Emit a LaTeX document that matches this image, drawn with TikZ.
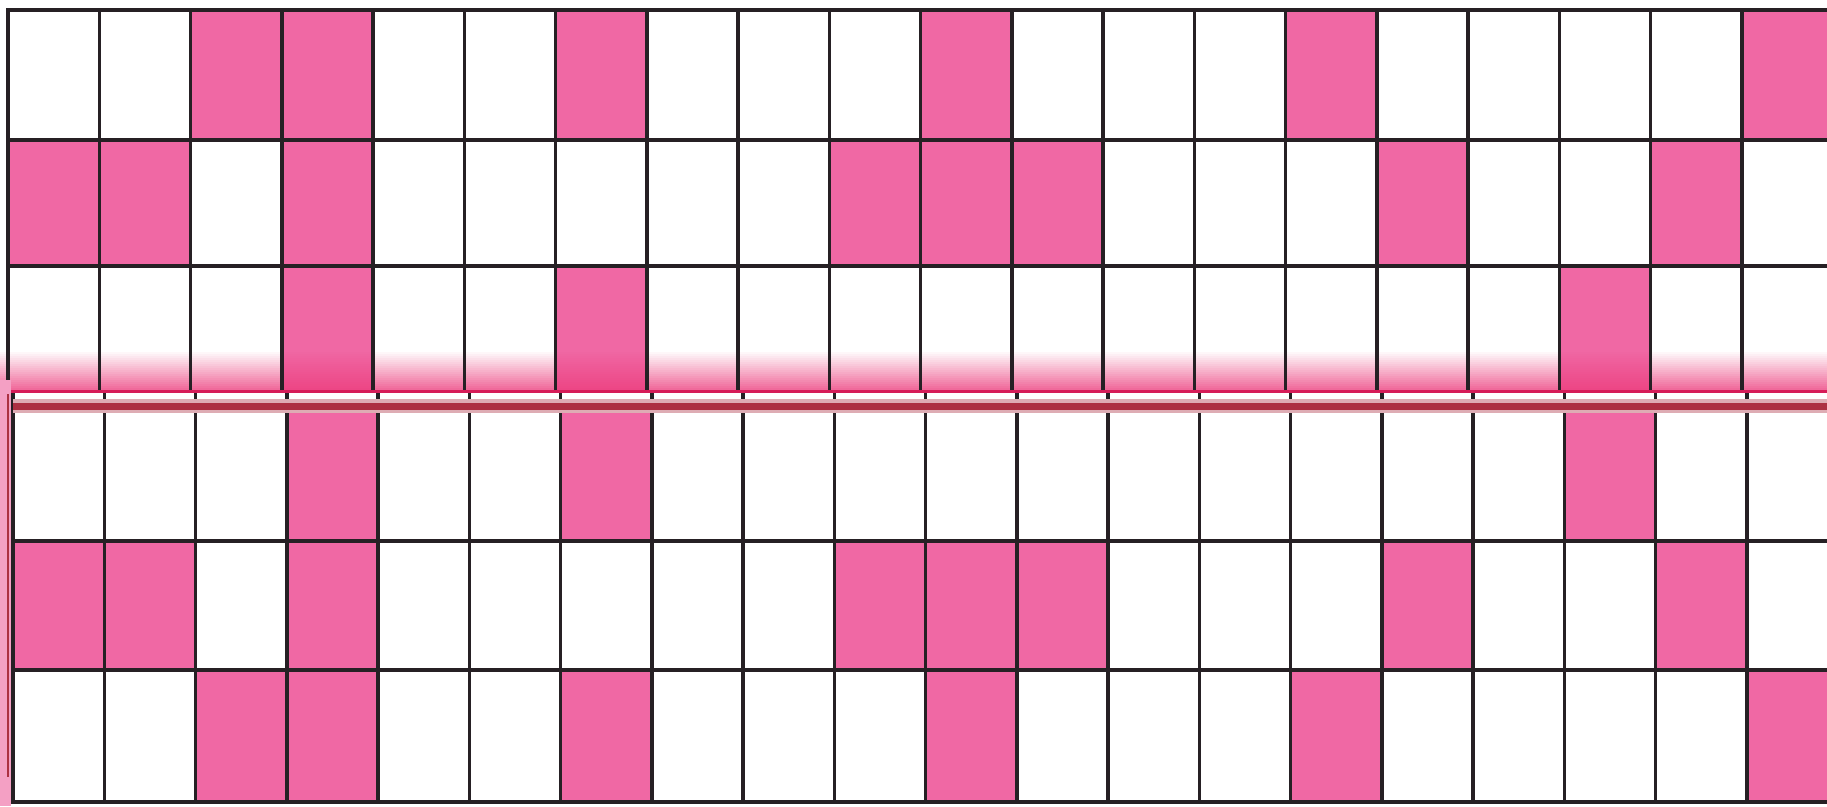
\documentclass[tikz,border=0pt]{standalone}
\begin{document}
\definecolor{cellpink}{RGB}{240,104,164}
\definecolor{gridline}{RGB}{38,32,36}
\definecolor{glowpink}{RGB}{236,60,124}
\definecolor{crimsonline}{RGB}{214,28,88}
\definecolor{darkredband}{RGB}{172,48,66}
\definecolor{sidepink}{RGB}{244,160,196}
\begin{tikzpicture}[x=1pt,y=-1pt,
  cell/.style={fill=cellpink},
  gline/.style={draw=gridline,line width=3.5pt}]
\useasboundingbox (0,0) rectangle (1827,806);
\clip (0,0) rectangle (1827,806);
\fill[white] (0,0) rectangle (1827,806);
\def\cw{91.26}
% ---------- top grid ----------
\foreach \ya/\yb/\cols in {10/140/{3,4,7,11,15,20},140/266/{1,2,4,10,11,12,16,19},266/390/{4,7,18}}{
  \foreach \c in \cols {
    \fill[cell] ({8+(\c-1)*\cw},\ya) rectangle ({8+\c*\cw},\yb);
  }
}
% pink glow above the fold line
\foreach \k in {0,...,19} {
  \fill[glowpink,opacity={0.04*\k}] (0,{350+2*\k}) rectangle (1827,{352.2+2*\k});
}
\foreach \i in {0,...,20} {
  \draw[gline] ({8+\i*\cw},10) -- ({8+\i*\cw},390);
}
\foreach \y in {10,140,266} {
  \draw[gline] (6.25,\y) -- (1827,\y);
}
\draw[crimsonline,line width=3pt] (0,391) -- (1827,391);
% ---------- bottom grid ----------
\fill[sidepink] (0,380) rectangle (11,806);
\foreach \ya/\yb/\cols in {406/541/{4,7,18},541/670/{1,2,4,10,11,12,16,19},670/802/{3,4,7,11,15,20}}{
  \foreach \c in \cols {
    \fill[cell] ({13+(\c-1)*\cw},\ya) rectangle ({13+\c*\cw},\yb);
  }
}
\foreach \i in {0,...,20} {
  \draw[gline] ({13+\i*\cw},393) -- ({13+\i*\cw},803.75);
}
\foreach \y in {541,670,802} {
  \draw[gline] (11.25,\y) -- (1827,\y);
}
\draw[darkredband!40,line width=14pt] (13,406) -- (1827,406);
\draw[darkredband,line width=7pt] (13,406) -- (1827,406);
\draw[darkredband,line width=2pt] (8,394) -- (8,777);
\end{tikzpicture}
\end{document}
